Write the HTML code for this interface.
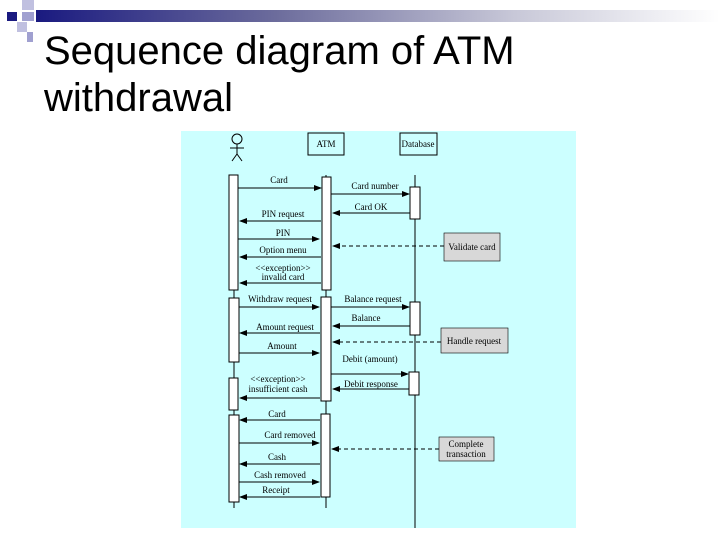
<!DOCTYPE html>
<html><head><meta charset="utf-8"><style>
body{margin:0;background:#fff;width:720px;height:540px;overflow:hidden;font-family:"Liberation Sans",sans-serif}
</style></head><body>
<svg width="720" height="540" xmlns="http://www.w3.org/2000/svg">
<defs>
<linearGradient id="g" x1="0" x2="1"><stop offset="0" stop-color="#1a1a80"/><stop offset="0.35" stop-color="#6c6c9c"/><stop offset="0.7" stop-color="#c8c8d8"/><stop offset="1" stop-color="#ffffff"/></linearGradient>
<marker id="a" markerWidth="8" markerHeight="6" refX="7" refY="3" orient="auto"><path d="M0,0 L8,3 L0,6z" fill="#000"/></marker>
</defs>
<rect x="36" y="10" width="684" height="12" fill="url(#g)"/>
<rect x="22" y="0" width="12" height="10" fill="#c0c0e0"/>
<rect x="7" y="12" width="10" height="9" fill="#1a1a80"/>
<rect x="22" y="12" width="12" height="9" fill="#a0a0d0"/>
<rect x="17" y="22" width="10" height="10" fill="#c0c0e0"/>
<rect x="27" y="32" width="6" height="10" fill="#a0a0d0"/>
<text x="44" y="64" font-size="40" fill="#000">Sequence diagram of ATM</text>
<text x="44" y="111" font-size="40" fill="#000">withdrawal</text>

<rect x="181" y="131" width="395" height="397" fill="#ccffff"/>
<g font-family="Liberation Serif,serif" font-size="9" fill="#000">
<circle cx="237" cy="139" r="5" fill="none" stroke="#000"/>
<line x1="237" y1="144" x2="237" y2="154" stroke="#000"/><line x1="230" y1="148" x2="244" y2="148" stroke="#000"/>
<line x1="237" y1="154" x2="232" y2="161" stroke="#000"/><line x1="237" y1="154" x2="242" y2="161" stroke="#000"/>
<rect x="308" y="133" width="36" height="22" fill="none" stroke="#000"/><text x="326" y="147" text-anchor="middle">ATM</text>
<rect x="400" y="133" width="37" height="22" fill="none" stroke="#000"/><text x="418" y="147" text-anchor="middle">Database</text>
<g stroke="#000">
<line x1="234" y1="175" x2="234" y2="508"/>
<line x1="326" y1="175" x2="326" y2="508"/>
<line x1="415" y1="175" x2="415" y2="528"/>
</g>
<g fill="#fff" stroke="#000">
<rect x="229" y="175" width="9" height="115"/><rect x="229" y="298" width="10" height="64"/>
<rect x="229" y="378" width="9" height="32"/><rect x="229" y="415" width="10" height="87"/>
<rect x="322" y="177" width="9" height="113"/><rect x="321" y="297" width="10" height="104"/>
<rect x="321" y="414" width="9" height="83"/>
<rect x="410" y="187" width="10" height="32"/><rect x="410" y="302" width="10" height="33"/>
<rect x="409" y="372" width="10" height="23"/>
</g>
<g fill="#d8d8d8" stroke="#000" stroke-width="0.6">
<rect x="444" y="233" width="56" height="28"/><rect x="441" y="328" width="67" height="25"/><rect x="439" y="437" width="55" height="24"/>
</g>
<text x="472" y="250" text-anchor="middle">Validate card</text>
<text x="474" y="344" text-anchor="middle">Handle request</text>
<text x="466" y="447" text-anchor="middle">Complete</text><text x="466" y="457" text-anchor="middle">transaction</text>
<g stroke="#000" stroke-dasharray="4,3" marker-end="url(#a)">
<line x1="444" y1="246" x2="333" y2="246"/><line x1="441" y1="342" x2="333" y2="342"/><line x1="439" y1="449" x2="332" y2="449"/>
</g>
<g stroke="#000" marker-end="url(#a)">
<line x1="238" y1="188" x2="321" y2="188"/>
<line x1="321" y1="221" x2="240" y2="221"/>
<line x1="238" y1="239" x2="319" y2="239"/>
<line x1="321" y1="257" x2="240" y2="257"/>
<line x1="321" y1="283" x2="240" y2="283"/>
<line x1="239" y1="307" x2="319" y2="307"/>
<line x1="320" y1="333" x2="240" y2="333"/>
<line x1="239" y1="353" x2="319" y2="353"/>
<line x1="320" y1="398" x2="240" y2="398"/>
<line x1="320" y1="420" x2="240" y2="420"/>
<line x1="239" y1="443" x2="319" y2="443"/>
<line x1="320" y1="464" x2="240" y2="464"/>
<line x1="239" y1="482" x2="319" y2="482"/>
<line x1="320" y1="497" x2="240" y2="497"/>
<line x1="331" y1="194" x2="409" y2="194"/>
<line x1="410" y1="213" x2="333" y2="213"/>
<line x1="331" y1="307" x2="409" y2="307"/>
<line x1="410" y1="326" x2="333" y2="326"/>
<line x1="331" y1="374" x2="408" y2="374"/>
<line x1="409" y1="389" x2="333" y2="389"/>
</g>
<g text-anchor="middle">
<text x="279" y="183">Card</text>
<text x="283" y="217">PIN request</text>
<text x="283" y="236">PIN</text>
<text x="283" y="253">Option menu</text>
<text x="283" y="271">&lt;&lt;exception&gt;&gt;</text><text x="283" y="280">invalid card</text>
<text x="280" y="302">Withdraw request</text>
<text x="285" y="330">Amount request</text>
<text x="282" y="349">Amount</text>
<text x="278" y="382">&lt;&lt;exception&gt;&gt;</text><text x="278" y="392">insufficient cash</text>
<text x="277" y="417">Card</text>
<text x="290" y="438">Card removed</text>
<text x="277" y="460">Cash</text>
<text x="280" y="478">Cash removed</text>
<text x="276" y="493">Receipt</text>
<text x="375" y="189">Card number</text>
<text x="371" y="210">Card OK</text>
<text x="373" y="302">Balance request</text>
<text x="366" y="321">Balance</text>
<text x="370" y="362">Debit (amount)</text>
<text x="371" y="387">Debit response</text>
</g>
</g>
</svg>
</body></html>
